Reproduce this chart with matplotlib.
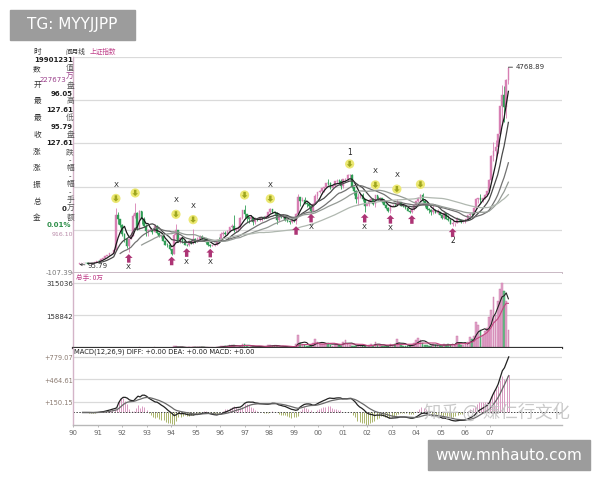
import numpy as np
import pandas as pd
import matplotlib
matplotlib.use("Agg")
import matplotlib.pyplot as plt
from matplotlib.path import Path
from matplotlib.patches import Rectangle
from matplotlib.transforms import offset_copy

CJK = ['Noto Sans CJK SC', 'DejaVu Sans']
plt.rcParams['font.family'] = ['DejaVu Sans', 'Noto Sans CJK SC']

# monthly Shanghai composite, Dec 1990 .. Aug 2007
first_open = 96.05
close = [127.61,
    129.97, 133.01, 120.19, 113.94, 114.83, 137.56, 145.74, 180.92, 180.39, 218.64, 259.60, 292.75,
    313.24, 364.76, 370.07, 445.10, 1265.79, 1170.66, 1028.95, 822.34, 703.56, 541.53, 694.77, 780.39,
    1232.5, 1320.0, 925.9, 1358.8, 1169.0, 1007.9, 877.0, 902.0, 904.0, 874.4, 1016.7, 833.80,
    770.0, 776.0, 660.0, 560.0, 551.0, 467.2, 333.9, 787.7, 913.0, 616.0, 712.0, 647.87,
    562.6, 549.3, 647.9, 600.0, 700.5, 630.6, 695.1, 738.0, 731.0, 716.0, 621.0, 555.29,
    537.4, 551.0, 556.6, 685.4, 643.7, 816.0, 829.0, 812.0, 881.0, 971.0, 1013.0, 917.02,
    944.0, 947.0, 1184.0, 1379.0, 1301.0, 1209.0, 1168.0, 1214.0, 1097.0, 1175.0, 1152.0, 1194.10,
    1222.2, 1206.5, 1243.7, 1343.4, 1411.6, 1339.2, 1316.5, 1150.6, 1246.2, 1217.3, 1247.2, 1146.7,
    1134.7, 1090.1, 1158.1, 1120.7, 1279.3, 1689.4, 1601.3, 1627.7, 1556.7, 1517.4, 1479.0, 1366.6,
    1534.9, 1714.6, 1800.2, 1836.3, 1894.6, 1928.1, 2023.5, 2023.2, 1910.2, 1961.3, 2070.6, 2073.5,
    2065.6, 1959.2, 2112.8, 2119.2, 2214.3, 2218.0, 1920.3, 1834.1, 1642.0, 1689.5, 1747.0, 1646.0,
    1491.0, 1524.7, 1603.0, 1657.4, 1515.7, 1732.8, 1651.2, 1669.4, 1581.4, 1507.2, 1434.5, 1357.7,
    1499.8, 1511.9, 1510.6, 1521.4, 1576.3, 1486.9, 1476.7, 1421.9, 1367.2, 1348.3, 1397.2, 1497.0,
    1590.7, 1675.1, 1741.6, 1595.6, 1555.9, 1399.2, 1386.2, 1342.1, 1396.7, 1320.5, 1340.8, 1266.5,
    1191.8, 1306.0, 1181.2, 1159.1, 1060.7, 1080.9, 1083.0, 1162.8, 1155.6, 1092.8, 1099.3, 1161.1,
    1258.1, 1299.0, 1298.3, 1440.2, 1641.3, 1672.2, 1612.7, 1658.6, 1752.4, 1837.9, 2099.3, 2675.5,
    2786.3, 2881.1, 3183.9, 3841.3, 4109.7, 3820.7, 4471.0, 4740.0]
high = [127.61,
    135.2, 134.9, 133.1, 120.3, 115.0, 137.6, 145.9, 181.0, 191.2, 218.7, 259.8, 292.8,
    313.3, 364.8, 370.1, 445.2, 1429.0, 1347.0, 1125.0, 1042.0, 832.0, 719.0, 698.0, 860.0,
    1288.0, 1558.95, 1348.0, 1392.0, 1358.0, 1210.0, 1044.0, 930.0, 970.0, 912.0, 1044.0, 1020.0,
    842.0, 800.0, 806.0, 679.0, 609.0, 567.0, 470.0, 835.0, 1052.94, 915.0, 735.0, 712.0,
    650.0, 570.0, 664.0, 660.0, 926.41, 730.0, 740.0, 795.0, 792.0, 757.0, 720.0, 633.0,
    572.0, 564.0, 580.0, 695.0, 736.0, 868.0, 890.0, 880.0, 900.0, 976.0, 1050.0, 1258.69,
    970.0, 1010.0, 1225.0, 1385.0, 1510.18, 1290.0, 1205.0, 1257.0, 1225.0, 1220.0, 1198.0, 1218.0,
    1231.0, 1236.0, 1250.0, 1345.0, 1422.0, 1420.0, 1370.0, 1326.0, 1278.0, 1247.0, 1300.0, 1252.0,
    1156.0, 1143.0, 1182.0, 1178.0, 1308.0, 1756.18, 1681.0, 1695.0, 1693.0, 1571.0, 1540.0, 1500.0,
    1544.0, 1764.0, 1817.0, 1859.0, 1901.0, 1929.0, 2031.0, 2114.5, 2039.0, 1971.0, 2071.0, 2125.0,
    2131.0, 2112.0, 2116.0, 2154.0, 2234.0, 2245.43, 2233.0, 1934.0, 1850.0, 1780.0, 1780.0, 1780.0,
    1655.0, 1535.0, 1635.0, 1677.0, 1667.0, 1748.9, 1722.0, 1696.0, 1667.0, 1597.0, 1520.0, 1445.0,
    1508.0, 1521.0, 1523.0, 1649.6, 1582.0, 1574.0, 1514.0, 1477.0, 1422.0, 1375.0, 1399.0, 1506.0,
    1601.0, 1692.0, 1762.0, 1783.0, 1590.0, 1561.0, 1422.0, 1413.0, 1497.0, 1408.0, 1415.0, 1341.0,
    1278.0, 1328.0, 1316.0, 1269.0, 1163.0, 1146.0, 1088.0, 1223.0, 1170.0, 1157.0, 1112.0, 1180.0,
    1258.0, 1306.0, 1303.0, 1445.0, 1678.0, 1678.0, 1757.0, 1675.0, 1766.0, 1839.0, 2113.0, 2698.0,
    2994.0, 3049.0, 3184.0, 3841.0, 4335.0, 4312.0, 4480.0, 4768.89]
low = [95.79,
    127.6, 129.9, 120.0, 104.96, 105.0, 114.9, 137.6, 145.7, 178.4, 180.0, 218.6, 259.5,
    292.8, 313.0, 353.0, 370.0, 445.0, 1050.0, 980.0, 781.0, 620.0, 486.0, 386.85, 694.0,
    770.0, 1200.0, 900.0, 925.0, 1050.0, 990.0, 777.0, 777.0, 880.0, 810.0, 862.0, 820.0,
    741.0, 723.0, 660.0, 546.0, 509.0, 444.0, 325.89, 338.0, 700.0, 616.0, 598.0, 599.0,
    546.0, 524.43, 540.0, 580.0, 577.0, 613.0, 622.0, 687.0, 700.0, 690.0, 588.0, 538.0,
    512.83, 534.0, 535.0, 555.0, 630.0, 640.0, 780.0, 788.0, 785.0, 860.0, 950.0, 855.8,
    870.0, 904.0, 940.0, 1170.0, 1190.0, 1108.0, 1066.0, 1120.0, 1025.0, 1060.0, 1113.0, 1119.0,
    1136.0, 1175.0, 1195.0, 1231.0, 1324.0, 1316.0, 1278.0, 1043.0, 1127.0, 1185.0, 1200.0, 1124.0,
    1099.0, 1064.0, 1086.0, 1096.0, 1047.83, 1277.0, 1474.0, 1589.0, 1535.0, 1464.0, 1440.0, 1341.05,
    1361.0, 1528.0, 1650.0, 1779.0, 1765.0, 1816.0, 1926.0, 1978.0, 1878.0, 1895.0, 1941.0, 2016.0,
    1998.0, 1894.0, 1912.0, 2062.0, 2067.0, 2145.0, 1907.0, 1737.0, 1560.0, 1514.86, 1662.0, 1605.0,
    1339.2, 1497.0, 1482.0, 1600.0, 1502.0, 1455.0, 1630.0, 1611.0, 1560.0, 1497.0, 1418.0, 1348.0,
    1311.7, 1490.0, 1485.0, 1521.0, 1519.0, 1474.0, 1448.0, 1403.0, 1357.0, 1310.0, 1307.4, 1380.0,
    1494.0, 1586.0, 1622.0, 1575.0, 1452.0, 1387.0, 1309.0, 1259.0, 1299.0, 1320.0, 1302.0, 1259.0,
    1177.0, 1178.0, 1166.0, 1136.0, 1043.0, 998.23, 1004.0, 1079.0, 1142.0, 1068.0, 1074.0, 1080.0,
    1163.0, 1235.0, 1262.0, 1295.0, 1437.0, 1541.0, 1541.0, 1575.0, 1635.0, 1752.0, 1828.0, 2072.0,
    2541.0, 2612.0, 2724.0, 3151.0, 3404.0, 3463.0, 3562.0, 4368.0]
# volume, 10k lots
volume = [2,
    5, 4, 6, 8, 5, 7, 10, 20, 25, 30, 40, 45,
    60, 80, 90, 120, 400, 500, 300, 350, 250, 300, 500, 900,
    1500, 2000, 1500, 2500, 1800, 1500, 1200, 2000, 1500, 1400, 2500, 1800,
    1200, 900, 1100, 900, 800, 700, 1500, 9000, 8000, 3000, 3500, 2000,
    1500, 1200, 2500, 1800, 6000, 2500, 3000, 3500, 3500, 2500, 1500, 1200,
    1200, 1000, 1500, 6000, 5500, 10000, 9000, 8500, 9500, 14000, 13000, 15000,
    5000, 6000, 12000, 18000, 20000, 8000, 6000, 8000, 8000, 9000, 7000, 7000,
    6000, 5000, 9000, 14000, 16000, 12000, 10000, 8000, 9000, 5000, 9000, 7000,
    4000, 3000, 6000, 5000, 20000, 65000, 25000, 18000, 14000, 8000, 9000, 8000,
    22000, 45000, 30000, 20000, 18000, 17000, 25000, 26000, 15000, 12000, 20000, 17000,
    15000, 10000, 30000, 40000, 20000, 16000, 12000, 12000, 9000, 14000, 15000, 10000,
    10000, 7000, 14000, 20000, 12000, 30000, 16000, 13000, 9000, 10000, 11000, 10000,
    20000, 14000, 18000, 45000, 25000, 14000, 12000, 10000, 12000, 11000, 16000, 22000,
    40000, 50000, 38000, 26000, 16000, 14000, 12000, 11000, 20000, 14000, 13000, 12000,
    11000, 20000, 16000, 18000, 13000, 20000, 15000, 60000, 22000, 14000, 14000, 20000,
    30000, 53000, 42000, 60000, 126000, 110000, 85000, 65000, 80000, 95000, 150000, 184000,
    247000, 160000, 230000, 285000, 315036, 275000, 230000, 87000]

sell_months = [17, 26, 45, 53, 77, 89, 126, 138, 148, 159]
buy_months = [23, 43, 50, 61, 101, 108, 133, 145, 155, 174]
x_above = [17, 45, 53, 89, 138, 148]
x_below = [23, 50, 61, 108, 133, 145]
wave_top = {126: "1"}
wave_bottom = {174: "2"}

ma_periods = [5, 10, 20, 30, 60]
ma_colors = ['#1a1a1a', '#4a4a4a', '#727272', '#959b96', '#b0b8b0']
year_labels = ['90', '91', '92', '93', '94', '95', '96', '97', '98', '99',
               '00', '01', '02', '03', '04', '05', '06', '07']
price_grid = [-107.39, 916.10, 1939.59, 2963.08, 3986.57, 5010.06]
vol_grid = [158842, 315036]
macd_grid = [150.15, 464.61, 779.07]

PINK = '#d77fb3'
GREEN = '#2f9d55'
GRID = '#dadada'

c = pd.Series(close)
o = pd.Series([first_open] + close[:-1])
h = np.array(high)
l = np.array(low)
v = pd.Series(volume)
idx = np.arange(len(close))
up = (c >= o).values

fig = plt.figure(figsize=(6, 4.8), dpi=100)

def px_axes(x0, y0, x1, y1):
    return fig.add_axes([x0 / 600, 1 - y1 / 480, (x1 - x0) / 600, (y1 - y0) / 480])

ax = px_axes(73, 57, 562, 273)
axv = px_axes(73, 273, 562, 348)
axm = px_axes(73, 348, 562, 425)
xlim = (-3, 225)

for a in (ax, axv, axm):
    a.set_xlim(*xlim)
    a.set_facecolor('white')
    for s in ('top', 'right'):
        a.spines[s].set_visible(False)
    a.spines['left'].set_color('#d4b4c8')
    a.spines['left'].set_linewidth(1.0)
    a.tick_params(left=False, labelleft=False, bottom=False, labelbottom=False)
    a.set_axisbelow(True)

# price panel
ax.set_ylim(price_grid[0], price_grid[-1])
ax.set_yticks(price_grid)
ax.grid(axis='y', color=GRID, lw=0.9)
ax.spines['bottom'].set_color('#c9b9c4')
ax.spines['bottom'].set_linewidth(1.4)
col = np.where(up, PINK, GREEN)
ax.vlines(idx, l, h, colors=col, lw=0.6, zorder=2)
ax.bar(idx, np.abs(c - o), bottom=np.minimum(c, o), width=0.8, color=col,
       edgecolor=col, lw=0.3, zorder=2)
for p, mc in zip(ma_periods, ma_colors):
    ax.plot(idx, c.rolling(p).mean(), color=mc, lw=0.9, zorder=3)

down_arrow = Path([(0, -1), (0.9, -0.1), (0.4, -0.1), (0.4, 1), (-0.4, 1), (-0.4, -0.1), (-0.9, -0.1), (0, -1)])
up_arrow = Path([(0, 1), (0.9, 0.1), (0.4, 0.1), (0.4, -1), (-0.4, -1), (-0.4, 0.1), (-0.9, 0.1), (0, 1)])

t_sell = offset_copy(ax.transData, fig=fig, y=7, units='points')
sm = np.array(sell_months)
ax.scatter(sm, h[sm], s=44, color='#ece873', edgecolors='none', transform=t_sell, zorder=4)
ax.scatter(sm, h[sm], s=20, marker=down_arrow, color='#9ea51f', edgecolors='none', transform=t_sell, zorder=5)
t_buy = offset_copy(ax.transData, fig=fig, y=-4.5, units='points')
bm = np.array(buy_months)
ax.scatter(bm, l[bm], s=38, marker=up_arrow, color='#ad3475', edgecolors='none', transform=t_buy, zorder=5)

for m in x_above:
    ax.annotate('X', (m, h[m]), xytext=(0, 17), textcoords='offset points',
                ha='center', va='center', fontsize=5.2, color='#222')
for m in x_below:
    ax.annotate('X', (m, l[m]), xytext=(0, -11), textcoords='offset points',
                ha='center', va='center', fontsize=5.2, color='#222')
for m, t in wave_top.items():
    ax.annotate(t, (m, h[m]), xytext=(0, 15), textcoords='offset points',
                ha='center', va='center', fontsize=5.5, color='#222')
for m, t in wave_bottom.items():
    ax.annotate(t, (m, l[m]), xytext=(0, -10), textcoords='offset points',
                ha='center', va='center', fontsize=5.5, color='#222')

imax = int(np.argmax(h))
ax.annotate(f'{h[imax]:.2f}', (imax, h[imax]), xytext=(5, 0), textcoords='offset points',
            va='center', fontsize=5, color='#333',
            arrowprops=dict(arrowstyle='-', lw=0.6, color='#333', shrinkA=0, shrinkB=0))
imin = int(np.argmin(l))
ax.annotate(f'{l[imin]:.2f}', (imin, l[imin]), xytext=(6, -1), textcoords='offset points',
            va='center', fontsize=5, color='#333',
            arrowprops=dict(arrowstyle='->', lw=0.5, color='#333', shrinkA=0, shrinkB=0,
                            mutation_scale=4))

# volume panel
axv.set_ylim(0, 315036 * 75 / 65)
axv.set_yticks(vol_grid)
axv.grid(axis='y', color=GRID, lw=0.9)
axv.spines['bottom'].set_color('#333333')
axv.spines['bottom'].set_linewidth(1.6)
axv.bar(idx, v, width=0.8, color=np.where(up, '#e2a6cb', '#6cc48d'),
        edgecolor=np.where(up, '#c66fa3', '#2a8a4a'), lw=0.3)
axv.plot(idx, v.rolling(5).mean(), color='#222', lw=0.8)
axv.plot(idx, v.rolling(10).mean(), color='#c2457f', lw=0.8)

# MACD panel
ema12 = c.ewm(span=12, adjust=False).mean()
ema26 = c.ewm(span=26, adjust=False).mean()
diff = ema12 - ema26
dea = diff.ewm(span=9, adjust=False).mean()
hist = 2 * (diff - dea)
axm.set_ylim(-175, 902)
axm.set_yticks(macd_grid)
axm.grid(axis='y', color=GRID, lw=0.9)
axm.spines['bottom'].set_color('#b8b8b8')
axm.spines['bottom'].set_linewidth(1.0)
axm.vlines(idx, 0, hist, colors=np.where(hist >= 0, '#d99ac2', '#a9b46a'), lw=0.7)
axm.axhline(0, color='#444', lw=0.7, ls=(0, (1.5, 1.5)))
axm.plot(idx, diff, color='#222', lw=0.9)
axm.plot(idx, dea, color='#6a6a6a', lw=0.9)
axm.set_xticks(np.arange(len(year_labels)) * 11.5 - 4.5)
axm.set_xticklabels(year_labels)
axm.tick_params(bottom=True, labelbottom=True, length=1.5, width=0.5, color='#999',
                labelsize=5, labelcolor='#666', pad=2)

# left texts
def ftext(x, y, s, **kw):
    kw.setdefault('fontsize', 5)
    kw.setdefault('va', 'center')
    fig.text(x / 600, 1 - y / 480, s, **kw)

col_a = ['时', '数', '开', '最', '最', '收', '涨', '涨', '振', '总', '金']
col_a_y = [52, 69, 85, 101, 118, 135, 152, 168, 185, 202, 218]
for s, y in zip(col_a, col_a_y):
    ftext(37, y, s, ha='center', family=CJK, fontsize=5.5, color='#333')
col_b = ['值', '盘', '高', '低', '盘', '跌', '幅', '幅', '手', '额']
col_b_y = [68, 86, 101, 118, 135, 152, 168, 184, 200, 218]
for s, y in zip(col_b, col_b_y):
    ftext(70, y, s, ha='center', family=CJK, fontsize=5.5, color='#555')
ftext(65, 52, '间月线', ha='left', family=CJK, fontsize=4.8, color='#333')
ftext(90, 52, '上证指数', ha='left', family=CJK, fontsize=4.8, color='#c0408a')
ftext(66, 80, '227673', ha='right', color='#9a3f8a')
ftext(70, 77, '万', ha='center', family=CJK, fontsize=5.5, color='#9a3f8a')
for s, y in [('19901231', 60), ('96.05', 94), ('127.61', 110), ('95.79', 127), ('127.61', 143)]:
    ftext(73, y, s, ha='right', fontweight='bold', color='#222')
for y in (160, 176, 192):
    ftext(71, y, '-', ha='right', color='#222')
ftext(66, 209, '0', ha='right', fontweight='bold', color='#222')
ftext(71, 209, '万', ha='center', family=CJK, fontsize=5.5, color='#555')
ftext(71, 225, '0.01%', ha='right', fontweight='bold', color='#2f8f4a')
ftext(73, 234, '916.10', ha='right', fontsize=4.5, color='#b98aa8')
ftext(73, 273, '-107.39', ha='right', color='#777')
ftext(73, 284, '315036', ha='right', color='#333')
ftext(73, 317, '158842', ha='right', color='#333')
ftext(76, 278, '总手: 0万', ha='left', family=CJK, fontsize=4.8, color='#c0408a')
ftext(74, 352, 'MACD(12,26,9) DIFF: +0.00 DEA: +0.00 MACD: +0.00', ha='left', fontsize=4.9, color='#222')
for s, y in [('+779.07', 358), ('+464.61', 381), ('+150.15', 403)]:
    ftext(73, y, s, ha='right', fontsize=4.8, color='#8a7a70')

# watermarks
fig.patches.append(Rectangle((10 / 600, 1 - 40 / 480), 125 / 600, 30 / 480,
                             transform=fig.transFigure, color='#9c9c9c', zorder=10))
ftext(72, 25, 'TG: MYYJJPP', ha='center', fontsize=11, color='white', zorder=11)
fig.patches.append(Rectangle((428 / 600, 1 - 470 / 480), 162 / 600, 30 / 480,
                             transform=fig.transFigure, color='#9c9c9c', zorder=10))
ftext(509, 455, 'www.mnhauto.com', ha='center', fontsize=11, color='white', zorder=11)
ftext(497, 412, '知乎 @ 赚仁行文化', ha='center', family=CJK, fontsize=12.5,
      color='#c4c4c4', alpha=0.9, zorder=11)

fig.savefig('out.png', dpi=100, facecolor='white')
